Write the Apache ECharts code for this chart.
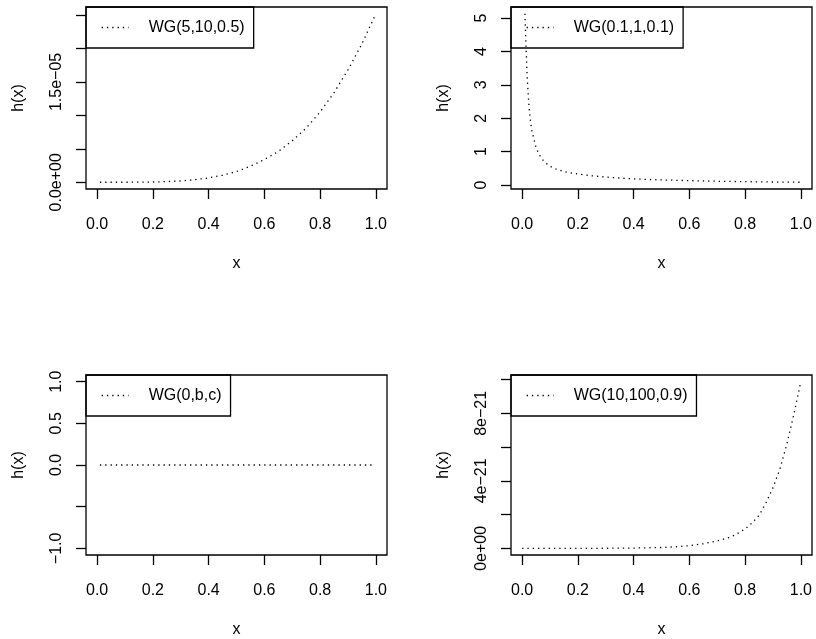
<!DOCTYPE html>
<html><head><meta charset="utf-8">
<script src="https://cdn.jsdelivr.net/npm/echarts@6/dist/echarts.min.js"></script>
<style>html,body{margin:0;padding:0;background:#fff}#c{width:816px;height:639px}</style>
</head><body><div id="c"></div>
<script>
// ---- shared x axis ----
const xRange = [0, 1];
const xTicks = [0, 0.2, 0.4, 0.6, 0.8, 1.0];
const xTickLabels = ['0.0', '0.2', '0.4', '0.6', '0.8', '1.0'];

// ---- panel 1: WG(5,10,0.5), y in units of 1e-6 ----
const name1 = 'WG(5,10,0.5)';
const x1 = [0.01,0.05,0.1,0.15,0.2,0.25,0.3,0.35,0.4,0.45,0.5,0.55,0.6,0.65,0.7,0.75,0.8,0.85,0.9,0.95,1.0];
const y1 = [0,0.0002,0.003,0.013,0.04,0.1,0.2,0.38,0.65,1.05,1.6,2.4,3.4,4.6,6.2,8.1,10.5,13.4,16.8,20.7,25.2];
const yTicks1 = [0, 5, 10, 15, 20, 25];
const yLabelVals1 = [0, 15];
const yLabelTexts1 = ['0.0e+00', '1.5e\u221205'];

// ---- panel 2: WG(0.1,1,0.1) ----
const name2 = 'WG(0.1,1,0.1)';
const x2 = [0.01,0.0125,0.015,0.0175,0.02,0.025,0.03,0.035,0.04,0.05,0.06,0.07,0.08,0.1,0.12,0.15,0.2,0.25,0.3,0.4,0.5,0.6,0.7,0.8,0.9,1.0];
const y2 = [5.13,4.5,3.92,3.35,2.95,2.3,1.9,1.62,1.45,1.12,0.93,0.79,0.69,0.56,0.48,0.40,0.325,0.275,0.235,0.18,0.15,0.128,0.11,0.098,0.088,0.08];
const yTicks2 = [0, 1, 2, 3, 4, 5];
const yLabelVals2 = [0, 1, 2, 3, 4, 5];
const yLabelTexts2 = ['0', '1', '2', '3', '4', '5'];

// ---- panel 3: WG(0,b,c) ----
const name3 = 'WG(0,b,c)';
const x3 = [0.01, 0.99];
const y3 = [0, 0];
const yTicks3 = [-1, -0.5, 0, 0.5, 1];
const yLabelVals3 = [-1, 0, 0.5, 1];
const yLabelTexts3 = ['\u22121.0', '0.0', '0.5', '1.0'];

// ---- panel 4: WG(10,100,0.9), y in units of 1e-21 ----
const name4 = 'WG(10,100,0.9)';
const x4 = [0,0.1,0.2,0.3,0.4,0.5,0.55,0.6,0.65,0.7,0.75,0.775,0.8,0.825,0.85,0.875,0.9,0.925,0.95,0.975,1.0];
const y4 = [0,0,0,0.004,0.015,0.05,0.09,0.16,0.27,0.44,0.68,0.9,1.15,1.5,1.95,2.7,3.6,4.7,6.2,7.95,9.88];
const yTicks4 = [0, 2, 4, 6, 8, 10];
const yLabelVals4 = [0, 4, 8];
const yLabelTexts4 = ['0e+00', '4e\u221221', '8e\u221221'];

const panels = [
  {name: name1, x: x1, y: y1, ticks: yTicks1, lv: yLabelVals1, lt: yLabelTexts1},
  {name: name2, x: x2, y: y2, ticks: yTicks2, lv: yLabelVals2, lt: yLabelTexts2},
  {name: name3, x: x3, y: y3, ticks: yTicks3, lv: yLabelVals3, lt: yLabelTexts3},
  {name: name4, x: x4, y: y4, ticks: yTicks4, lv: yLabelVals4, lt: yLabelTexts4}
];

// layout (pixels)
const boxes = [
  {left: 86, top: 7, width: 301, height: 182},
  {left: 511, top: 7, width: 301, height: 182},
  {left: 86, top: 375, width: 301, height: 181},
  {left: 511, top: 375, width: 301, height: 181}
];

const FONT = '"Liberation Sans", Arial, Helvetica, sans-serif';
const DOT = {color: '#000', width: 1.3, type: [1.3, 4]};

function rRange(lo, hi) {
  if (hi - lo === 0) { lo -= 1; hi += 1; }
  const p = 0.04 * (hi - lo);
  return [lo - p, hi + p];
}
function lookup(vals, texts) {
  return function (v) {
    let best = -1, bd = Infinity;
    vals.forEach((lv, i) => { const d = Math.abs(lv - v); if (d < bd) { bd = d; best = i; } });
    return best >= 0 && bd < 1e-6 ? texts[best] : '';
  };
}

const xr = rRange(xRange[0], xRange[1]);
const grid = [], xAxis = [], yAxis = [], series = [], legend = [];
panels.forEach((p, i) => {
  const b = boxes[i];
  grid.push({left: b.left, top: b.top, width: b.width, height: b.height,
    show: true, borderColor: '#000', borderWidth: 1.3, backgroundColor: 'transparent', containLabel: false});
  xAxis.push({
    type: 'value', gridIndex: i, min: xr[0], max: xr[1],
    name: 'x', nameLocation: 'middle', nameGap: 67,
    nameTextStyle: {fontSize: 16, color: '#000', fontFamily: FONT},
    axisLine: {show: false, onZero: false},
    axisTick: {show: true, inside: false, length: 10, lineStyle: {color: '#000', width: 1.3}, customValues: xTicks},
    axisLabel: {show: true, margin: 28, fontSize: 16, color: '#000', fontFamily: FONT,
      customValues: xTicks, formatter: lookup(xTicks, xTickLabels), hideOverlap: false},
    splitLine: {show: false}
  });
  const lo = Math.min(...p.y), hi = Math.max(...p.y);
  const yr = rRange(lo, hi);
  yAxis.push({
    type: 'value', gridIndex: i, min: yr[0], max: yr[1],
    name: 'h(x)', nameLocation: 'middle', nameGap: 59, nameRotate: 90,
    nameTextStyle: {fontSize: 16, color: '#000', fontFamily: FONT},
    axisLine: {show: false, onZero: false},
    axisTick: {show: true, inside: false, length: 10, lineStyle: {color: '#000', width: 1.3}, customValues: p.ticks},
    axisLabel: {show: true, rotate: 90, margin: 21, fontSize: 16, color: '#000', fontFamily: FONT,
      customValues: p.lv, formatter: lookup(p.lv, p.lt), hideOverlap: false},
    splitLine: {show: false}
  });
  series.push({
    name: p.name, type: 'line', xAxisIndex: i, yAxisIndex: i,
    data: p.x.map((xv, k) => [xv, p.y[k]]),
    showSymbol: false, symbol: 'none', smooth: false,
    lineStyle: DOT,
    itemStyle: {color: '#000'},
    emphasis: {disabled: true}, silent: true
  });
  legend.push({
    data: [p.name], left: b.left, top: b.top, orient: 'horizontal',
    padding: [12, 9, 12, 15], itemWidth: 27, itemHeight: 16, itemGap: 0,
    borderColor: '#000', borderWidth: 1.3, borderRadius: 0, backgroundColor: 'transparent',
    selectedMode: false,
    itemStyle: {color: '#000', opacity: 0},
    lineStyle: DOT,
    textStyle: {fontSize: 16, color: '#000', fontFamily: FONT, padding: [0, 0, 0, 15], lineHeight: 17}
  });
});

const chart = echarts.init(document.getElementById('c'), null, {renderer: 'canvas'});
chart.setOption({
  animation: false,
  backgroundColor: '#fff',
  grid, xAxis, yAxis, series, legend
});
</script>
</body></html>
